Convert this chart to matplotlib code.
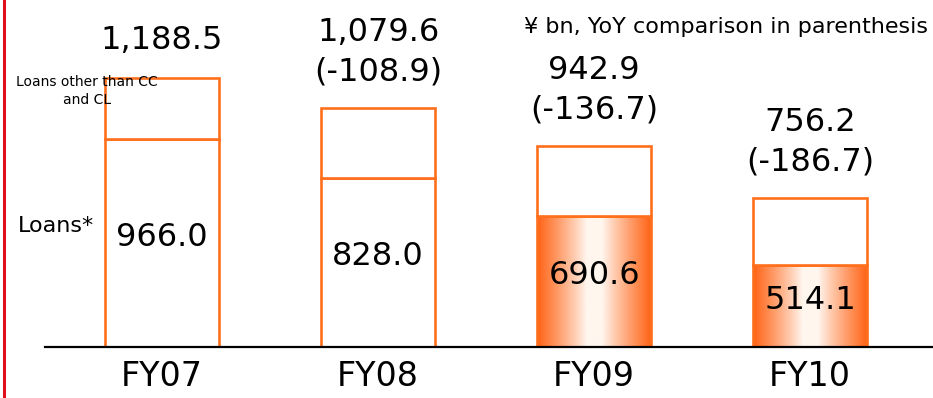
import numpy as np
import matplotlib.pyplot as plt
from matplotlib.lines import Line2D

years = ['FY07', 'FY08', 'FY09', 'FY10']
loans = [966.0, 828.0, 690.6, 514.1]
totals = [1188.5, 1079.6, 942.9, 756.2]
yoy = [None, -108.9, -136.7, -186.7]
shaded = [False, False, True, True]

ORANGE = '#ff6f1c'
Y_LO, Y_HI = 219, 1468

plt.rcParams['font.family'] = 'DejaVu Sans'

fig = plt.figure(figsize=(9.33, 3.98), dpi=100)
ax = fig.add_axes([45 / 933, 51 / 398, 1 - 45 / 933, 347 / 398])

x = np.arange(len(years))
other = [t - l for t, l in zip(totals, loans)]
w = 0.53

# horizontal orange -> white -> orange shading for the recent years
t = np.linspace(0, 1, 200)
k = np.clip((np.abs(t - 0.5) - 0.07) / 0.43, 0, 1) ** 0.9
edge = np.array([255, 98, 20]) / 255
mid = np.array([255, 246, 238]) / 255
grad = (mid[None, :] * (1 - k[:, None]) + edge[None, :] * k[:, None])[None, :, :]

low = ax.bar(x, loans, width=w, facecolor='white', edgecolor=ORANGE, linewidth=1.9, zorder=2)
ax.bar(x, other, bottom=loans, width=w, facecolor='white', edgecolor=ORANGE, linewidth=1.9, zorder=2)

for i, patch in enumerate(low.patches):
    if shaded[i]:
        patch.set_facecolor('none')
        im = ax.imshow(grad, extent=[x[i] - w / 2, x[i] + w / 2, Y_LO, loans[i]],
                       aspect='auto', interpolation='bilinear', zorder=1)
        im.set_clip_path(patch)

for i in range(len(years)):
    ax.text(x[i], (Y_LO + loans[i]) / 2 + 20, f'{loans[i]:.1f}', ha='center', va='center',
            fontsize=23, zorder=3)
    if yoy[i] is None:
        ax.annotate(f'{totals[i]:,.1f}', (x[i], totals[i]), xytext=(0, 27),
                    textcoords='offset points', ha='center', va='center', fontsize=23)
    else:
        ax.annotate(f'({yoy[i]:.1f})', (x[i], totals[i]), xytext=(0, 26),
                    textcoords='offset points', ha='center', va='center', fontsize=23)
        ax.annotate(f'{totals[i]:,.1f}', (x[i], totals[i]), xytext=(0, 54),
                    textcoords='offset points', ha='center', va='center', fontsize=23)

ax.set_xlim(-0.542, 3.569)
ax.set_ylim(Y_LO, Y_HI)
ax.set_xticks(x, years, fontsize=24)
ax.set_yticks([])
ax.tick_params(axis='x', length=0, pad=9)
for side in ['left', 'right', 'top']:
    ax.spines[side].set_visible(False)
ax.spines['bottom'].set_linewidth(1.6)
ax.spines['bottom'].set_zorder(4)

fig.text(18 / 933, 1 - 226 / 398, 'Loans*', ha='left', va='center', fontsize=16)
fig.text(87 / 933, 1 - 91 / 398, 'Loans other than CC\nand CL', ha='center', va='center',
         multialignment='center', fontsize=10, linespacing=1.3)
fig.text(928 / 933, 1 - 27 / 398, '¥ bn, YoY comparison in parenthesis', ha='right',
         va='center', fontsize=16)

fig.add_artist(Line2D([3.5 / 933, 3.5 / 933], [0, 1], color='#e01020', linewidth=2.2))

fig.savefig('out.png', dpi=100)
